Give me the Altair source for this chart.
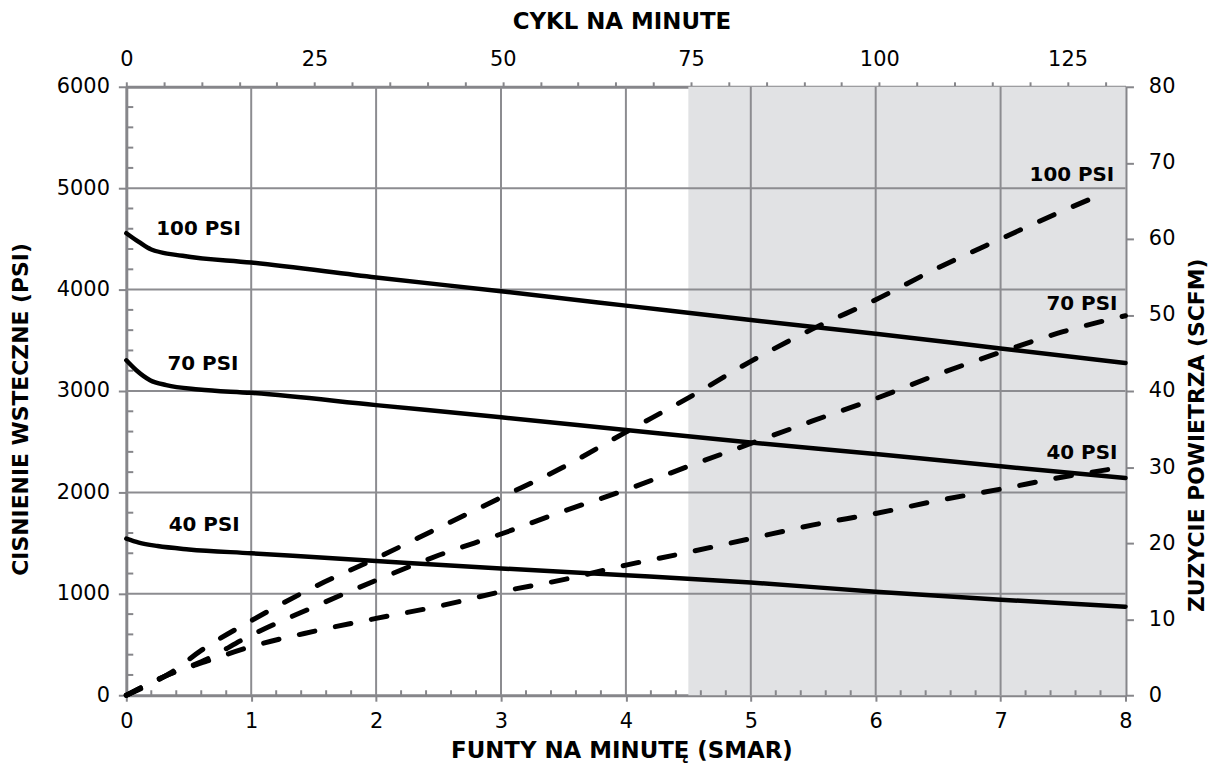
import altair as alt
import pandas as pd

# ---------------- data ----------------
# Solid lines: back pressure (PSI, left axis) vs pounds per minute
s100_x = [0, 0.1, 0.2, 0.45, 1, 2, 3, 4, 5, 6, 7, 8]
s100_y = [4556, 4470, 4395, 4333, 4267, 4120, 3983, 3842, 3700, 3565, 3420, 3276]
s70_x = [0, 0.08, 0.19, 0.32, 0.58, 1, 2, 3, 4, 5, 6, 7, 8]
s70_y = [3303, 3205, 3107, 3058, 3015, 2982, 2861, 2741, 2616, 2492, 2378, 2258, 2142]
s40_x = [0, 0.1, 0.25, 0.5, 1, 2, 3, 4, 5, 6, 7, 8]
s40_y = [1544, 1505, 1471, 1438, 1400, 1324, 1250, 1184, 1112, 1020, 942, 873]

# Dashed lines: air consumption (SCFM, right axis)
d100_x = [0, 0.35, 0.6, 1.0, 1.5, 2.0, 2.5, 3.0, 3.5, 4.0, 4.5, 5.0, 5.5, 6.0, 6.5, 7.0, 7.5, 7.8]
d100_y = [0, 2.9, 5.9, 9.8, 14.2, 18.0, 22.0, 26.0, 30.0, 34.6, 39.1, 43.9, 48.2, 52.0, 56.2, 60.0, 63.7, 65.8]
d70_x = [0, 0.35, 0.6, 1.0, 1.5, 2.0, 2.5, 3.0, 3.5, 4.0, 4.5, 5.0, 5.5, 6.0, 6.5, 7.0, 7.5, 8.0]
d70_y = [0, 2.8, 4.4, 7.9, 11.6, 15.1, 18.4, 21.2, 24.2, 27.0, 30.1, 33.1, 36.1, 39.0, 42.2, 45.1, 47.8, 49.9]
d40_x = [0, 0.35, 0.65, 1.0, 1.5, 2.0, 2.5, 3.0, 3.5, 4.0, 4.5, 5.0, 5.5, 6.0, 6.5, 7.0, 7.5, 7.87]
d40_y = [0, 2.8, 4.5, 6.4, 8.4, 10.1, 11.7, 13.6, 15.2, 17.1, 18.8, 20.6, 22.4, 23.9, 25.6, 27.1, 28.7, 29.7]

# Labels
left_labels = ["100 PSI", "70 PSI", "40 PSI"]
left_label_x = [0.24, 0.33, 0.34]
left_label_psi = [4597, 3264, 1674]
right_labels = ["100 PSI", "70 PSI", "40 PSI"]
right_label_x = [7.91, 7.935, 7.935]
right_label_scfm = [68.45, 51.45, 31.8]

# Shaded region (lbs/min)
shade_from = [4.5]
shade_to = [8]

# Axis ticks
x_ticks = [0, 1, 2, 3, 4, 5, 6, 7, 8]
psi_ticks = [0, 1000, 2000, 3000, 4000, 5000, 6000]
scfm_ticks = [0, 10, 20, 30, 40, 50, 60, 70, 80]
cyc_ticks = list(range(0, 131, 5))
cyc_domain = [0, 132.7]

# ---------------- chart ----------------
W, H = 1005, 612
AXC = "#86868a"
GRIDC = "#8c8c90"
FONT = "DejaVu Sans"

xs = alt.Scale(domain=[0, 8], nice=False, zero=False)
ypsi = alt.Scale(domain=[0, 6000], nice=False)
yscfm = alt.Scale(domain=[0, 80], nice=False)
xcyc = alt.Scale(domain=cyc_domain, nice=False, zero=False)

common_axis = dict(
    grid=False, domainColor=AXC, domainWidth=3, tickColor=AXC, tickWidth=2,
    labelFont=FONT, labelFontSize=21, labelColor="black", labelFlush=False,
    labelOverlap=False, titleFont=FONT, titleFontWeight="bold",
    titleColor="black", titleBaseline="middle", titleAlign="center", format="d",
)

bottom_axis = alt.Axis(orient="bottom", values=x_ticks, tickSize=6, labelPadding=9,
                       title="FUNTY NA MINUTĘ (SMAR)", titleFontSize=23,
                       titleX=498, titleY=56, **common_axis)
left_axis = alt.Axis(orient="left", values=psi_ticks, tickSize=8, labelPadding=9,
                     title="CISNIENIE WSTECZNE  (PSI)", titleAngle=270, titleFontSize=22,
                     titleX=-106, titleY=324, **common_axis)
right_axis = alt.Axis(orient="right", values=scfm_ticks, tickSize=8, labelPadding=15,
                      title="ZUZYCIE POWIETRZA (SCFM)", titleAngle=270, titleFontSize=22,
                      titleX=71, titleY=350, **common_axis)
top_axis = alt.Axis(orient="top", values=cyc_ticks, tickSize=5, labelPadding=12,
                    labelExpr="datum.value % 25 === 0 ? datum.label : ''",
                    title="CYKL NA MINUTE", titleFontSize=23,
                    titleX=498, titleY=-66, **common_axis)

shade_df = pd.DataFrame({"a": shade_from, "b": shade_to})
shade = alt.Chart(shade_df).mark_rect(color="#e1e2e4").encode(
    x=alt.X("a:Q", scale=xs, axis=None), x2="b:Q",
    y=alt.value(0), y2=alt.value(H))

vgrid = alt.Chart(pd.DataFrame({"v": x_ticks[1:-1]})).mark_rule(
    color=GRIDC, strokeWidth=2).encode(
    x=alt.X("v:Q", scale=xs, axis=None), y=alt.value(0), y2=alt.value(H))
hgrid = alt.Chart(pd.DataFrame({"v": psi_ticks[1:-1]})).mark_rule(
    color=GRIDC, strokeWidth=2).encode(
    y=alt.Y("v:Q", scale=ypsi, axis=None), x=alt.value(0), x2=alt.value(W))

minor_psi = [v for v in range(200, 6000, 200) if v % 1000 != 0]
minor_lbs = [round(i * 0.2, 1) for i in range(1, 40) if i % 5 != 0]
lminor = alt.Chart(pd.DataFrame({"v": minor_psi})).mark_rule(
    color=AXC, strokeWidth=2).encode(
    y=alt.Y("v:Q", scale=ypsi, axis=None), x=alt.value(0), x2=alt.value(7))
bminor = alt.Chart(pd.DataFrame({"v": minor_lbs})).mark_rule(
    color=AXC, strokeWidth=2).encode(
    x=alt.X("v:Q", scale=xs, axis=None), y=alt.value(H), y2=alt.value(H - 5))

solid_df = pd.concat([
    pd.DataFrame({"s": "100", "lbs": s100_x, "psi": s100_y}),
    pd.DataFrame({"s": "70", "lbs": s70_x, "psi": s70_y}),
    pd.DataFrame({"s": "40", "lbs": s40_x, "psi": s40_y}),
])
solid = alt.Chart(solid_df).mark_line(
    color="black", strokeWidth=4.5, interpolate="monotone", strokeCap="round").encode(
    x=alt.X("lbs:Q", scale=xs, axis=bottom_axis),
    y=alt.Y("psi:Q", scale=ypsi, axis=left_axis),
    detail="s:N")

dash_df = pd.concat([
    pd.DataFrame({"s": "100", "lbs": d100_x, "scfm": d100_y}),
    pd.DataFrame({"s": "70", "lbs": d70_x, "scfm": d70_y}),
    pd.DataFrame({"s": "40", "lbs": d40_x, "scfm": d40_y}),
])
dashed = alt.Chart(dash_df).mark_line(
    color="black", strokeWidth=5, interpolate="monotone", strokeDash=[16, 21],
    strokeCap="round").encode(
    x=alt.X("lbs:Q", scale=xs, axis=None),
    y=alt.Y("scfm:Q", scale=yscfm, axis=right_axis),
    detail="s:N")

top = alt.Chart(pd.DataFrame({"c": cyc_domain})).mark_point(opacity=0).encode(
    x=alt.X("c:Q", scale=xcyc, axis=top_axis), y=alt.value(0))

ltext = alt.Chart(pd.DataFrame({"t": left_labels, "x": left_label_x, "y": left_label_psi})).mark_text(
    font=FONT, fontWeight="bold", fontSize=20, align="left", baseline="middle", color="black").encode(
    x=alt.X("x:Q", scale=xs, axis=None), y=alt.Y("y:Q", scale=ypsi, axis=None), text="t:N")
rtext = alt.Chart(pd.DataFrame({"t": right_labels, "x": right_label_x, "y": right_label_scfm})).mark_text(
    font=FONT, fontWeight="bold", fontSize=20, align="right", baseline="middle", color="black").encode(
    x=alt.X("x:Q", scale=xs, axis=None), y=alt.Y("y:Q", scale=yscfm, axis=None), text="t:N")

chart = alt.layer(
    shade, vgrid, hgrid, lminor, bminor, solid, dashed, top, ltext, rtext
).resolve_scale(x="independent", y="independent").properties(
    width=W, height=H,
    autosize=alt.AutoSizeParams(type="none"),
    padding={"left": 119, "top": 77, "right": 85, "bottom": 80},
).configure_view(stroke=None)

chart.save("out.html", embed_options={"renderer": "svg", "actions": False})
